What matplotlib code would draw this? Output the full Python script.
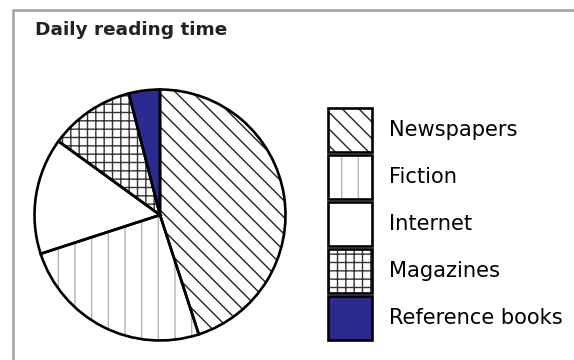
import matplotlib
matplotlib.use("Agg")
import matplotlib.pyplot as plt
from matplotlib.patches import Rectangle
from matplotlib.legend_handler import HandlerTuple

# values (share of daily reading time, %)
categories = ["Newspapers", "Fiction", "Internet", "Magazines", "Reference books"]
shares = [45, 25, 15, 11, 4]
hatches = ["\\\\", "|", "", "++", ""]
hatch_colors = ["#222222", "#b4b4b4", "black", "#333333", "#2b2b8f"]
fills = ["white", "white", "white", "white", "#2b2b8f"]

plt.rcParams["hatch.linewidth"] = 1.0
dpi = 100
fig = plt.figure(figsize=(574 / dpi, 360 / dpi), dpi=dpi)

# grey frame round the chart
fig.patches.append(Rectangle((13 / 574, -0.1), 1.2, (350 / 360) + 0.1,
                             transform=fig.transFigure, fill=False,
                             edgecolor="#a0a0a0", linewidth=1.8))

fig.text(35 / 574, 1 - 30 / 360, "Daily reading time", fontsize=13.3,
         fontweight="bold", va="center", ha="left", color="#222222")

ax = fig.add_axes([(160 - 128) / 574, 17 / 360, 256 / 574, 256 / 360])

# fill + hatch layer (hatch colour comes from edgecolor)
fill_wedges, _ = ax.pie(shares, startangle=90, counterclock=False,
                        colors=fills, wedgeprops=dict(linewidth=0))
for w, h, hc in zip(fill_wedges, hatches, hatch_colors):
    w.set_hatch(h)
    w.set_edgecolor(hc)

# black outlines
line_wedges, _ = ax.pie(shares, startangle=90, counterclock=False,
                        wedgeprops=dict(fill=False, edgecolor="black",
                                        linewidth=1.9))
ax.set_aspect("equal")
ax.set_xlim(-1.02, 1.02)
ax.set_ylim(-1.02, 1.02)

handles = [(f, l) for f, l in zip(fill_wedges, line_wedges)]
fig.legend(handles, categories, loc="upper left",
           bbox_to_anchor=(328 / 574, 1 - 108 / 360),
           handler_map={tuple: HandlerTuple(ndivide=1, pad=0)},
           frameon=False, fontsize=15.1, handlelength=2.1, handleheight=2.85,
           labelspacing=0.14, handletextpad=0.8, borderaxespad=0,
           borderpad=0)

fig.savefig("out.png", dpi=dpi)
